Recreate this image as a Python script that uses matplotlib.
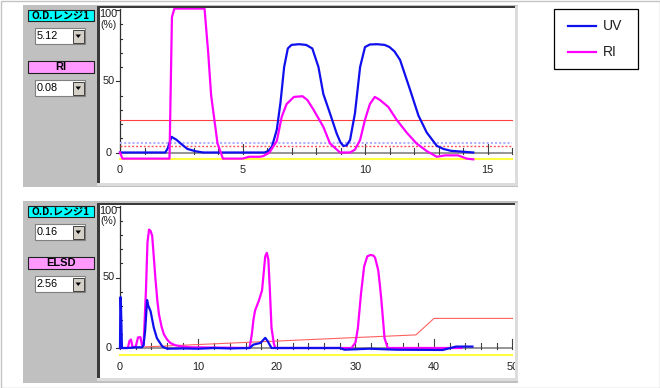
import numpy as np
import matplotlib
matplotlib.use('Agg')
import matplotlib.pyplot as plt
from matplotlib.patches import Rectangle, Polygon

# ---- upper panel : UV / RI, time 0-16 min ----
uv1_t = [0.0, 1.85, 1.95, 2.1, 2.3, 2.5, 2.75, 3.1, 3.4, 5.9, 6.05, 6.2, 6.4, 6.55, 6.7, 6.85, 7.0,
         7.3, 7.6, 7.85, 8.1, 8.3, 8.57, 8.84, 9.0, 9.12, 9.25, 9.39, 9.59, 9.8, 10.0, 10.2, 10.5,
         10.8, 11.0, 11.2, 11.43, 11.84, 12.18, 12.52, 12.93, 13.2, 13.5, 14.42]
uv1_v = [0.0, 0.0, 3.0, 11.0, 9.0, 6.0, 2.5, 0.8, 0.0, 0.0, 1.0, 4.0, 16.0, 35.0, 60.0, 73.0, 75.5,
         76.0, 75.5, 73.0, 60.0, 41.0, 27.5, 13.5, 7.0, 4.6, 5.0, 8.8, 27.5, 60.0, 74.0, 75.8, 76.0,
         75.5, 74.0, 71.0, 65.0, 44.0, 26.0, 14.0, 4.7, 2.5, 1.2, 0.0]
ri1_t = [0.0, 0.1, 2.02, 2.12, 2.22, 3.45, 3.6, 3.72, 3.98, 4.2, 5.0, 5.27, 5.7, 5.85, 6.1, 6.4, 6.6,
         6.8, 7.1, 7.45, 7.65, 7.9, 8.3, 8.57, 8.98, 9.39, 9.59, 9.8, 10.0, 10.2, 10.4, 10.6, 10.95,
         11.29, 11.7, 12.1, 12.52, 12.93, 13.27, 13.8, 14.15, 14.42]
ri1_v = [0.0, -4.3, -4.3, 95.0, 101.0, 101.0, 70.0, 40.0, 6.4, -4.3, -4.3, -3.0, -3.0, -2.5, 0.0, 8.0,
         25.0, 34.0, 39.0, 39.5, 36.8, 30.0, 18.0, 6.4, 0.0, 0.0, 2.0, 8.8, 23.0, 34.0, 39.0, 37.0,
         32.0, 23.0, 14.0, 6.4, 1.0, -3.0, -2.0, -2.0, -4.3, -4.8]
red1_t = [0.0, 16.0]
red1_v = [22.8, 22.8]
dot_blue1 = 6.6
dot_red1 = 4.9
yellow1 = -4.8

# ---- lower panel : UV / ELSD, time 0-50 min ----
uv2_t = [0.0, 0.05, 0.1, 0.25, 1.0, 2.0, 2.8, 3.0, 3.2, 3.45, 3.6, 3.9, 4.3, 4.7, 5.4, 6.0, 8.0,
         10.0, 12.0, 14.0, 16.5, 17.0, 17.9, 18.3, 18.5, 18.8, 19.3, 20.0, 28.0, 28.6, 31.8, 35.2,
         41.1, 42.8, 44.9]
uv2_v = [0.0, 36.0, 36.0, 0.0, 0.0, 0.5, 0.5, 2.0, 12.0, 34.0, 30.0, 26.0, 14.5, 7.0, 1.0, -0.5,
         -0.3, -0.5, 0.0, -0.3, 0.0, 2.4, 3.6, 6.0, 7.2, 5.0, 0.0, 0.0, 0.0, -1.2, -0.5, -1.2,
         -1.4, 1.0, 1.0]
elsd2_t = [0.0, 1.0, 1.2, 1.4, 1.6, 2.0, 2.3, 2.6, 2.8, 3.0, 3.3, 3.5, 3.7, 3.9, 4.1, 4.3, 4.5,
           4.75, 4.96, 5.3, 5.6, 6.0, 6.4, 7.0, 7.7, 9.0, 16.5, 16.8, 17.0, 17.2, 17.7, 18.1, 18.5,
           18.7, 18.9, 19.1, 19.3, 19.6, 19.8, 29.5, 30.0, 30.3, 30.7, 31.1, 31.5, 31.9, 32.3,
           32.5, 32.9, 33.1, 33.3, 33.7, 34.1, 43.5]
elsd2_v = [0.0, 0.0, 5.0, 6.0, 0.5, 1.0, 7.5, 7.7, 2.0, 1.5, 40.0, 75.0, 84.0, 83.0, 79.5, 65.0,
           50.0, 34.0, 24.0, 15.0, 9.6, 6.0, 3.6, 2.0, 1.2, 0.5, 0.0, 10.0, 20.0, 26.5, 33.7, 41.0,
           65.0, 67.5, 62.7, 40.0, 14.5, 3.0, 0.0, 0.0, 4.0, 14.0, 38.5, 57.8, 65.0, 66.0, 65.5,
           64.0, 55.0, 45.0, 33.7, 7.0, 0.0, 0.0]
red2_t = [3.2, 37.7, 40.0, 50.0]
red2_v = [0.8, 9.3, 21.0, 21.0]
yellow2 = -5.3

W, H = 660, 388
BLUE = '#1010ee'
PINK = '#ff00ff'
GRAY = '#c0c0c0'
LATIN = 'Liberation Sans'
CJK = ['Noto Sans CJK JP', 'DejaVu Sans']

fig = plt.figure(figsize=(W / 100, H / 100), dpi=100)
bg = fig.add_axes([0, 0, 1, 1])
bg.set_xlim(0, W)
bg.set_ylim(H, 0)
bg.axis('off')


def rect(x0, y0, x1, y1, fc, ec='none', lw=0.0, z=1):
    bg.add_patch(Rectangle((x0, y0), x1 - x0, y1 - y0, facecolor=fc, edgecolor=ec,
                           linewidth=lw, zorder=z))


def combo(y, text):
    rect(35, y, 85, y + 16, 'white', '#808080', 0.8, 2)
    rect(72.5, y + 1.5, 84, y + 14.5, '#d4d0c8', '#404040', 0.7, 3)
    bg.add_patch(Polygon([[75.5, y + 6.5], [81, y + 6.5], [78.25, y + 10]], closed=True,
                         facecolor='black', edgecolor='none', zorder=4))
    bg.text(36.5, y + 8.3, text, fontsize=7.8, family=LATIN, va='center', ha='left', zorder=4)


def side(y0, rng, det, det_rng):
    rect(28, y0 + 5, 94, y0 + 16, '#00ffff', '#202020', 0.8, 2)
    bg.text(61, y0 + 10.8, 'O.D.レンジ1', fontsize=7.3, fontweight='bold', family=CJK,
            ha='center', va='center', zorder=3)
    combo(y0 + 23, rng)
    rect(28, y0 + 56, 94, y0 + 68, '#ff99ff', '#202020', 0.8, 2)
    bg.text(61, y0 + 62.3, det, fontsize=8, fontweight='bold', family=LATIN,
            ha='center', va='center', zorder=3)
    combo(y0 + 75, det_rng)


def frame(y0, top, bottom):
    rect(23, y0, 518, y0 + 182, GRAY)
    rect(97, top - 2, 100, bottom, '#3a3a3a', z=2)
    rect(97, top - 2, 515, top, '#3a3a3a', z=2)
    rect(515, top - 2, 518, bottom + 3, '#dcdcdc', z=2)
    rect(97, bottom, 518, bottom + 3, '#dcdcdc', z=2)


def panel(top, bottom, zero_py, sy, sx, xmax, step, major, lab_step, lab_dy):
    ax = fig.add_axes([100 / W, 1 - bottom / H, 415 / W, (bottom - top) / H])
    ax.set_xlim((100 - 120) / sx, (515 - 120) / sx)
    ax.set_ylim((zero_py - bottom) / sy, (zero_py - top) / sy)
    ax.set_facecolor('white')
    ax.set_xticks([])
    ax.set_yticks([])
    for s in ax.spines.values():
        s.set_visible(False)
    # x axis with ticks
    ax.plot([0, xmax], [0, 0], color='#8c8c8c', lw=1.3, zorder=1)
    for t in np.arange(0, xmax + step / 2, step):
        ln = 9 if abs(t / major - round(t / major)) < 1e-6 else 5
        ax.plot([t, t], [-1 / sy, ln / sy], color='#404040', lw=0.8, zorder=1)
    for t in np.arange(0, xmax + 0.1, lab_step):
        ax.text(t, -lab_dy / sy, '%d' % t, fontsize=7.8, family=LATIN, color='#202020',
                ha='center', va='center', clip_on=True)
    # y axis
    ax.plot([0, 0], [0, 100 + 1 / sy], color='#303030', lw=0.9, zorder=1)
    for v in range(0, 101, 10):
        if v % 50 == 0:
            ax.plot([-4 / sx, 0], [v, v], color='#303030', lw=0.8, zorder=1)
        else:
            ax.plot([0, 2 / sx], [v, v], color='#303030', lw=0.8, zorder=1)
    lx = (108.5 - 120) / sx
    for v in (0, 50):
        ax.text(lx, v, str(v), fontsize=7.8, family=LATIN, color='#202020',
                ha='center', va='center')
    ax.text(lx, 100 - 4 / sy, '100', fontsize=7.8, family=LATIN, color='#202020',
            ha='center', va='center', clip_on=True)
    ax.text(lx, 100 - 14.5 / sy, '(%)', fontsize=7.5, family=LATIN, color='#202020',
            ha='center', va='center', clip_on=True)
    return ax


# outer border
rect(0.5, 0.5, 659.5, 387.5, 'white', '#c4c4c4', 1.0, 0)

# upper panel
frame(5, 8, 183)
side(5, '5.12', 'RI', '0.08')
ax1 = panel(8, 183, 152.5, 1.425, 24.5, 16, 1, 5, 5, 17.5)
ax1.plot([0, 16], [yellow1, yellow1], color='#ffff40', lw=1.5, zorder=2)
ax1.plot([0, 16], [dot_blue1, dot_blue1], color='#b0b0ff', lw=1.5, ls=(0, (1, 1)), zorder=2)
ax1.plot([0, 16], [dot_red1, dot_red1], color='#ff5050', lw=1.0, ls=(0, (1.4, 1.4)), zorder=2)
ax1.plot(red1_t, red1_v, color='#ff4040', lw=0.8, zorder=2)
ax1.plot(uv1_t, uv1_v, color=BLUE, lw=1.6, zorder=3)
ax1.plot(ri1_t, ri1_v, color=PINK, lw=1.6, zorder=4)

# lower panel
frame(201, 205, 378)
side(201, '0.16', 'ELSD', '2.56')
ax2 = panel(205, 378, 348, 1.41, 7.85, 50, 2, 10, 10, 19.5)
ax2.plot([0, 50], [yellow2, yellow2], color='#ffff40', lw=1.5, zorder=2)
ax2.plot(red2_t, red2_v, color='#ff6060', lw=0.8, zorder=2)
ax2.plot(elsd2_t, elsd2_v, color=PINK, lw=1.6, zorder=3)
ax2.plot(uv2_t, uv2_v, color=BLUE, lw=1.6, zorder=4)

# legend
rect(553.5, 8.5, 637.5, 68.5, 'white', 'black', 0.9, 2)
bg.plot([568, 596], [26, 26], color=BLUE, lw=1.6, zorder=3)
bg.plot([568, 596], [51.5, 51.5], color=PINK, lw=1.6, zorder=3)
bg.text(603, 26, 'UV', fontsize=10, family=LATIN, color='#202020', va='center', zorder=3)
bg.text(603, 51.5, 'RI', fontsize=10, family=LATIN, color='#202020', va='center', zorder=3)

fig.savefig('out.png', dpi=100)
